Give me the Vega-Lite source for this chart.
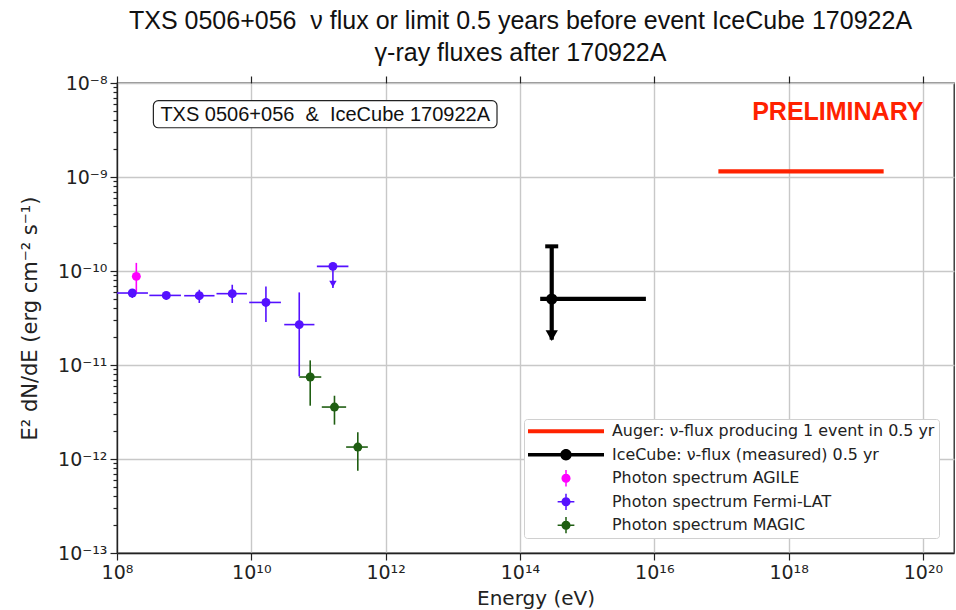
{
 "$schema": "https://vega.github.io/schema/vega-lite/v6.json",
 "width": 837, "height": 470,
 "autosize": {"type": "none"},
 "padding": {"left": 117, "top": 83, "right": 2, "bottom": 57},
 "background": "white",
 "title": {"text": ["TXS 0506+056 \u00a0ν flux or limit 0.5 years before event IceCube 170922A", "γ-ray fluxes after 170922A"], "font": "Liberation Sans", "fontSize": 25, "fontWeight": "normal", "color": "#111111", "anchor": "middle", "frame": "group", "offset": 8, "lineHeight": 32, "dx": -15},
 "config": {
  "view": {"stroke": "#222222", "strokeWidth": 1.3},
  "axis": {"domainColor": "#222222", "tickColor": "#222222", "labelColor": "#222222", "titleColor": "#222222", "labelFont": "DejaVu Sans", "titleFont": "DejaVu Sans", "labelFontSize": 19, "titleFontSize": 20, "titleFontWeight": "normal", "gridColor": "#c8c8c8", "gridWidth": 1.4, "domainWidth": 1.3, "tickWidth": 1.2}
 },
 "resolve": {"axis": {"x": "independent", "y": "independent"}},
 "datasets": {
  "pts": [
   {"s": "Auger: ν-flux producing 1 event in 0.5 yr", "x": 1.5e18, "xlo": 9e16, "xhi": 2.6e19, "y": 1.15e-9},
   {"s": "IceCube: ν-flux (measured) 0.5 yr", "x": 2.97e14, "xlo": 2.0e14, "xhi": 7.5e15, "y": 5.04e-11, "ylo": 1.86e-11, "yhi": 1.83e-10, "tip": 1.86e-11, "cap": 1.83e-10},
   {"s": "Photon spectrum AGILE", "x": 1.94e8, "y": 8.77e-11, "ylo": 5.83e-11, "yhi": 1.22e-10},
   {"s": "Photon spectrum Fermi-LAT", "x": 1.69e8, "xlo": 1.0e8, "xhi": 2.89e8, "y": 5.83e-11, "ylo": 5.16e-11, "yhi": 6.32e-11},
   {"s": "Photon spectrum Fermi-LAT", "x": 5.42e8, "xlo": 3.03e8, "xhi": 8.96e8, "y": 5.5e-11, "ylo": 4.95e-11, "yhi": 5.92e-11},
   {"s": "Photon spectrum Fermi-LAT", "x": 1.68e9, "xlo": 1.0e9, "xhi": 2.83e9, "y": 5.46e-11, "ylo": 4.57e-11, "yhi": 6.32e-11},
   {"s": "Photon spectrum Fermi-LAT", "x": 5.2e9, "xlo": 3.03e9, "xhi": 8.6e9, "y": 5.74e-11, "ylo": 4.57e-11, "yhi": 7.14e-11},
   {"s": "Photon spectrum Fermi-LAT", "x": 1.65e10, "xlo": 9.3e9, "xhi": 2.76e10, "y": 4.63e-11, "ylo": 2.86e-11, "yhi": 6.85e-11},
   {"s": "Photon spectrum Fermi-LAT", "x": 5.17e10, "xlo": 3.09e10, "xhi": 8.7e10, "y": 2.69e-11, "ylo": 7.57e-12, "yhi": 5.92e-11},
   {"s": "Photon spectrum Fermi-LAT", "x": 1.64e11, "xlo": 9.46e10, "xhi": 2.79e11, "y": 1.12e-10, "ylo": 6.6e-11, "yhi": 1.12e-10, "tip": 6.6e-11},
   {"s": "Photon spectrum MAGIC", "x": 7.53e10, "xlo": 5.17e10, "xhi": 1.1e11, "y": 7.45e-12, "ylo": 3.69e-12, "yhi": 1.12e-11},
   {"s": "Photon spectrum MAGIC", "x": 1.73e11, "xlo": 1.12e11, "xhi": 2.58e11, "y": 3.57e-12, "ylo": 2.32e-12, "yhi": 4.71e-12},
   {"s": "Photon spectrum MAGIC", "x": 3.85e11, "xlo": 2.58e11, "xhi": 5.43e11, "y": 1.34e-12, "ylo": 7.52e-13, "yhi": 1.92e-12}
  ],
  "annot": [
   {"t": "box", "xlo": 3.48e8, "xhi": 4.55e13, "ylo": 3.34e-9, "yhi": 6.48e-9},
   {"t": "label", "x": 1.26e11, "y": 4.6e-9, "txt": "TXS 0506+056 \u00a0& \u00a0IceCube 170922A"},
   {"t": "prelim", "x": 5.4e18, "y": 4.95e-9, "txt": "PRELIMINARY"}
  ]
 },
 "layer": [
  {
   "data": {"name": "pts"},
   "transform": [{"filter": "indexof(datum.s, 'Auger') == 0"}],
   "mark": {"type": "rule", "strokeWidth": 4.2, "strokeCap": "butt"},
   "encoding": {
    "x": {"field": "xlo", "type": "quantitative", "scale": {"type": "log", "domain": [1e8, 2.9e20], "nice": false}, "axis": null},
    "x2": {"field": "xhi"},
    "y": {"field": "y", "type": "quantitative", "scale": {"type": "log", "domain": [1e-13, 1e-8], "nice": false},
     "axis": {"orient": "left", "values": [2e-13, 3e-13, 4e-13, 5e-13, 6e-13, 7e-13, 8e-13, 9e-13, 2e-12, 3e-12, 4e-12, 5e-12, 6e-12, 7e-12, 8e-12, 9e-12, 2e-11, 3e-11, 4e-11, 5e-11, 6e-11, 7e-11, 8e-11, 9e-11, 2e-10, 3e-10, 4e-10, 5e-10, 6e-10, 7e-10, 8e-10, 9e-10, 2e-9, 3e-9, 4e-9, 5e-9, 6e-9, 7e-9, 8e-9, 9e-9], "labels": false, "grid": false, "domain": false, "ticks": true, "tickSize": 4, "title": null}},
    "stroke": {"field": "s", "type": "nominal", "scale": {"domain": ["Auger: ν-flux producing 1 event in 0.5 yr", "IceCube: ν-flux (measured) 0.5 yr", "Photon spectrum AGILE", "Photon spectrum Fermi-LAT", "Photon spectrum MAGIC", "-"], "range": ["#ff2200", "#000000", "#ff00ff", "#5511ff", "#1f5e12", "#000000"]}, "legend": null}
   }
  },
  {
   "data": {"name": "pts"},
   "transform": [{"filter": "indexof(datum.s, 'Auger') < 0 && isValid(datum.xlo)"}],
   "mark": {"type": "rule", "strokeCap": "butt"},
   "encoding": {
    "x": {"field": "xlo", "type": "quantitative", "scale": {"type": "log", "domain": [1e8, 2.9e20], "nice": false}, "axis": null},
    "x2": {"field": "xhi"},
    "y": {"field": "y", "type": "quantitative", "scale": {"type": "log", "domain": [1e-13, 1e-8], "nice": false}, "axis": null},
    "stroke": {"field": "s", "type": "nominal", "scale": {"domain": ["Auger: ν-flux producing 1 event in 0.5 yr", "IceCube: ν-flux (measured) 0.5 yr", "Photon spectrum AGILE", "Photon spectrum Fermi-LAT", "Photon spectrum MAGIC", "-"], "range": ["#ff2200", "#000000", "#ff00ff", "#5511ff", "#1f5e12", "#000000"]}, "legend": null},
    "strokeWidth": {"condition": {"test": "indexof(datum.s, 'IceCube') == 0", "value": 4.2}, "value": 1.6}
   }
  },
  {
   "data": {"name": "pts"},
   "transform": [{"filter": "isValid(datum.ylo)"}],
   "mark": {"type": "rule", "strokeCap": "butt"},
   "encoding": {
    "x": {"field": "x", "type": "quantitative", "scale": {"type": "log", "domain": [1e8, 2.9e20], "nice": false}, "axis": null},
    "y": {"field": "ylo", "type": "quantitative", "scale": {"type": "log", "domain": [1e-13, 1e-8], "nice": false}, "axis": null},
    "y2": {"field": "yhi"},
    "stroke": {"field": "s", "type": "nominal", "scale": {"domain": ["Auger: ν-flux producing 1 event in 0.5 yr", "IceCube: ν-flux (measured) 0.5 yr", "Photon spectrum AGILE", "Photon spectrum Fermi-LAT", "Photon spectrum MAGIC", "-"], "range": ["#ff2200", "#000000", "#ff00ff", "#5511ff", "#1f5e12", "#000000"]}, "legend": null},
    "strokeWidth": {"condition": {"test": "indexof(datum.s, 'IceCube') == 0", "value": 4.2}, "value": 1.6}
   }
  },
  {
   "data": {"name": "pts"},
   "transform": [{"filter": "isValid(datum.cap)"}],
   "mark": {"type": "tick", "orient": "horizontal", "size": 13, "thickness": 4, "color": "#000000", "opacity": 1},
   "encoding": {
    "x": {"field": "x", "type": "quantitative", "scale": {"type": "log", "domain": [1e8, 2.9e20], "nice": false}, "axis": null},
    "y": {"field": "cap", "type": "quantitative", "scale": {"type": "log", "domain": [1e-13, 1e-8], "nice": false}, "axis": null}
   }
  },
  {
   "data": {"name": "pts"},
   "transform": [{"filter": "indexof(datum.s, 'Auger') < 0"}],
   "mark": {"type": "circle", "opacity": 1},
   "encoding": {
    "x": {"field": "x", "type": "quantitative", "scale": {"type": "log", "domain": [1e8, 2.9e20], "nice": false},
     "axis": {"orient": "bottom", "values": [1e8, 1e10, 1e12, 1e14, 1e16, 1e18, 1e20], "labelExpr": "'10' + replace(replace(replace(replace(replace(replace(replace(replace(replace(replace(replace(toString(round(log(datum.value)/LN10)), regexp('-','g'), '⁻'), regexp('0','g'), '⁰'), regexp('1','g'), '¹'), regexp('2','g'), '²'), regexp('3','g'), '³'), regexp('4','g'), '⁴'), regexp('5','g'), '⁵'), regexp('6','g'), '⁶'), regexp('7','g'), '⁷'), regexp('8','g'), '⁸'), regexp('9','g'), '⁹')", "title": "Energy (eV)", "tickSize": 7, "grid": true, "labelPadding": 3, "titlePadding": 6, "labelFlush": false, "labelOverlap": false}},
    "y": {"field": "y", "type": "quantitative", "scale": {"type": "log", "domain": [1e-13, 1e-8], "nice": false},
     "axis": {"orient": "left", "values": [1e-13, 1e-12, 1e-11, 1e-10, 1e-9, 1e-8],
      "labelExpr": "'10' + replace(replace(replace(replace(replace(replace(replace(replace(replace(replace(replace(toString(round(log(datum.value)/LN10)), regexp('-','g'), '⁻'), regexp('0','g'), '⁰'), regexp('1','g'), '¹'), regexp('2','g'), '²'), regexp('3','g'), '³'), regexp('4','g'), '⁴'), regexp('5','g'), '⁵'), regexp('6','g'), '⁶'), regexp('7','g'), '⁷'), regexp('8','g'), '⁸'), regexp('9','g'), '⁹')",
      "title": "E² dN/dE (erg cm⁻² s⁻¹)", "titleFontSize": 21, "grid": true, "tickSize": 7,
      "labelPadding": 3, "titlePadding": 17, "labelOverlap": false, "labelFlush": false}},
    "fill": {"field": "s", "type": "nominal", "scale": {"domain": ["Auger: ν-flux producing 1 event in 0.5 yr", "IceCube: ν-flux (measured) 0.5 yr", "Photon spectrum AGILE", "Photon spectrum Fermi-LAT", "Photon spectrum MAGIC", "-"], "range": ["#ff2200", "#000000", "#ff00ff", "#5511ff", "#1f5e12", "#000000"]}, "legend": null},
    "size": {"condition": {"test": "indexof(datum.s, 'IceCube') == 0", "value": 125}, "value": 80}
   }
  },
  {
   "data": {"name": "pts"},
   "transform": [{"filter": "isValid(datum.tip)"}],
   "mark": {"type": "point", "shape": "triangle-down", "filled": true, "opacity": 1, "strokeWidth": 0, "yOffset": -4},
   "encoding": {
    "x": {"field": "x", "type": "quantitative", "scale": {"type": "log", "domain": [1e8, 2.9e20], "nice": false}, "axis": null},
    "y": {"field": "tip", "type": "quantitative", "scale": {"type": "log", "domain": [1e-13, 1e-8], "nice": false}, "axis": null},
    "fill": {"field": "s", "type": "nominal", "scale": {"domain": ["Auger: ν-flux producing 1 event in 0.5 yr", "IceCube: ν-flux (measured) 0.5 yr", "Photon spectrum AGILE", "Photon spectrum Fermi-LAT", "Photon spectrum MAGIC", "-"], "range": ["#ff2200", "#000000", "#ff00ff", "#5511ff", "#1f5e12", "#000000"]}, "legend": null},
    "size": {"condition": {"test": "indexof(datum.s, 'IceCube') == 0", "value": 150}, "value": 55}
   }
  },
  {
   "data": {"name": "annot"},
   "transform": [{"filter": "datum.t == 'box'"}],
   "mark": {"type": "rect", "fill": "white", "stroke": "#222222", "strokeWidth": 1.2, "cornerRadius": 5},
   "encoding": {
    "x": {"field": "xlo", "type": "quantitative", "scale": {"type": "log", "domain": [1e8, 2.9e20], "nice": false}, "axis": null},
    "x2": {"field": "xhi"},
    "y": {"field": "ylo", "type": "quantitative", "scale": {"type": "log", "domain": [1e-13, 1e-8], "nice": false}, "axis": null},
    "y2": {"field": "yhi"}
   }
  },
  {
   "data": {"name": "annot"},
   "transform": [{"filter": "datum.t == 'label'"}],
   "mark": {"type": "text", "font": "Liberation Sans", "fontSize": 20, "align": "center", "baseline": "middle", "color": "#111111"},
   "encoding": {
    "x": {"field": "x", "type": "quantitative", "scale": {"type": "log", "domain": [1e8, 2.9e20], "nice": false}, "axis": null},
    "y": {"field": "y", "type": "quantitative", "scale": {"type": "log", "domain": [1e-13, 1e-8], "nice": false}, "axis": null},
    "text": {"field": "txt"}
   }
  },
  {
   "data": {"name": "annot"},
   "transform": [{"filter": "datum.t == 'prelim'"}],
   "mark": {"type": "text", "font": "Liberation Sans", "fontSize": 25, "fontWeight": "bold", "align": "center", "baseline": "middle", "color": "#ff2200"},
   "encoding": {
    "x": {"field": "x", "type": "quantitative", "scale": {"type": "log", "domain": [1e8, 2.9e20], "nice": false}, "axis": null},
    "y": {"field": "y", "type": "quantitative", "scale": {"type": "log", "domain": [1e-13, 1e-8], "nice": false}, "axis": null},
    "text": {"field": "txt"}
   }
  },
  {
   "data": {"name": "pts"},
   "mark": {"type": "point", "filled": true, "opacity": 0},
   "encoding": {
    "x": {"field": "x", "type": "quantitative", "scale": {"type": "log", "domain": [1e8, 2.9e20], "nice": false},
     "axis": {"orient": "top", "values": [1e8, 1e10, 1e12, 1e14, 1e16, 1e18, 1e20], "labels": false, "grid": false, "domain": false, "ticks": true, "tickSize": 7, "title": null}},
    "y": {"field": "y", "type": "quantitative", "scale": {"type": "log", "domain": [1e-13, 1e-8], "nice": false}, "axis": null},
    "color": {"field": "s", "type": "nominal", "scale": {"domain": ["Auger: ν-flux producing 1 event in 0.5 yr", "IceCube: ν-flux (measured) 0.5 yr", "Photon spectrum AGILE", "Photon spectrum Fermi-LAT", "Photon spectrum MAGIC"], "range": ["#ff2200", "#000000", "#ff00ff", "#5511ff", "#1f5e12"]},
     "legend": {"title": null, "orient": "bottom-right", "offset": 15, "labelFont": "DejaVu Sans", "labelFontSize": 15.9, "labelColor": "#222222", "symbolSize": 5776, "symbolStrokeWidth": 0, "symbolOpacity": 1, "labelOffset": 8, "rowPadding": 6.5, "clipHeight": 16.5, "padding": 4, "fillColor": "white", "strokeColor": "#d0d0d0", "cornerRadius": 3, "labelLimit": 400}},
    "shape": {"field": "s", "type": "nominal", "scale": {"domain": ["Auger: ν-flux producing 1 event in 0.5 yr", "IceCube: ν-flux (measured) 0.5 yr", "Photon spectrum AGILE", "Photon spectrum Fermi-LAT", "Photon spectrum MAGIC"], "range": [
      "M-1,-0.055H1V0.055H-1Z",
      "M-1,-0.045H1V0.045H-1Z M0.15,0A0.15,0.15,0,1,1,-0.15,0A0.15,0.15,0,1,1,0.15,0Z",
      "M-0.02,-0.27H0.02V0.27H-0.02Z M0.12,0A0.12,0.12,0,1,1,-0.12,0A0.12,0.12,0,1,1,0.12,0Z",
      "M-0.02,-0.22H0.02V0.22H-0.02Z M-0.22,-0.02H0.22V0.02H-0.22Z M0.12,0A0.12,0.12,0,1,1,-0.12,0A0.12,0.12,0,1,1,0.12,0Z",
      "M-0.02,-0.22H0.02V0.22H-0.02Z M-0.22,-0.02H0.22V0.02H-0.22Z M0.12,0A0.12,0.12,0,1,1,-0.12,0A0.12,0.12,0,1,1,0.12,0Z"]},
     "legend": {"title": null, "orient": "bottom-right", "offset": 15, "labelFont": "DejaVu Sans", "labelFontSize": 15.9, "labelColor": "#222222", "symbolSize": 5776, "symbolStrokeWidth": 0, "symbolOpacity": 1, "labelOffset": 8, "rowPadding": 6.5, "clipHeight": 16.5, "padding": 4, "fillColor": "white", "strokeColor": "#d0d0d0", "cornerRadius": 3, "labelLimit": 400}}
   }
  }
 ]
}
